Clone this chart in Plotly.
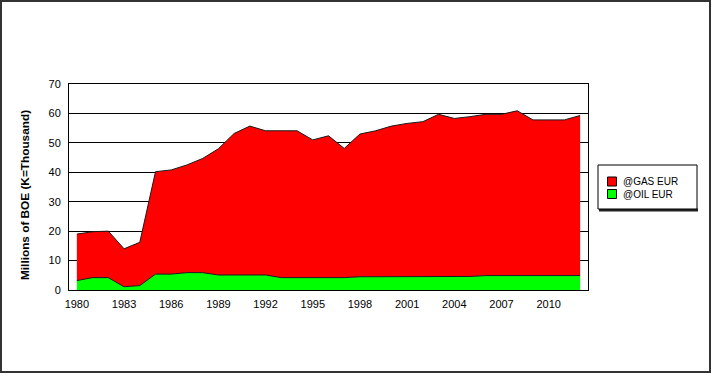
import plotly.graph_objects as go

years = list(range(1980, 2013))
total_eur = [19.0, 19.8, 20.0, 14.0, 16.2, 40.2, 40.8, 42.5, 44.7, 48.0, 53.2,
             55.7, 54.1, 54.1, 54.1, 51.0, 52.4, 48.1, 53.0, 54.1, 55.7,
             56.6, 57.2, 59.7, 58.3, 58.9, 59.7, 59.7, 60.9, 57.8, 57.8,
             57.8, 59.3]
oil_eur = [3.2, 4.2, 4.2, 1.1, 1.5, 5.4, 5.4, 5.9, 5.9, 5.1, 5.1,
           5.1, 5.1, 4.2, 4.2, 4.0, 4.2, 4.2, 4.5, 4.5, 4.5,
           4.5, 4.5, 4.5, 4.5, 4.6, 4.9, 4.9, 4.9, 4.9, 4.9,
           4.9, 4.9]
gas_eur = [round(t - o, 2) for t, o in zip(total_eur, oil_eur)]
x_ticks = list(range(1980, 2011, 3))
y_ticks = list(range(0, 71, 10))
legend_names = ["@GAS EUR", "@OIL EUR"]

GAS_COLOR = "#FF0000"
OIL_COLOR = "#00FF00"

fig = go.Figure()
fig.add_trace(go.Scatter(x=years, y=oil_eur, name="@OIL EUR", stackgroup="one",
                         mode="lines", line=dict(color="#1a1a1a", width=1),
                         fillcolor=OIL_COLOR, showlegend=False))
fig.add_trace(go.Scatter(x=years, y=gas_eur, name="@GAS EUR", stackgroup="one",
                         mode="lines", line=dict(color="#1a1a1a", width=1),
                         fillcolor=GAS_COLOR, showlegend=False))

font = dict(family="Liberation Sans, Arial, sans-serif", size=11, color="#000")

# plot area in pixels: x 69..588, y 84..290
L, R, T, B = 69, 588, 84, 290
def px(x):
    return (x - L) / (R - L)
def py(y):
    return (B - y) / (B - T)

fig.update_layout(
    width=713, height=373,
    margin=dict(l=L, r=713 - R, t=T, b=373 - B),
    paper_bgcolor="white", plot_bgcolor="white",
    font=font,
    showlegend=False,
    xaxis=dict(range=[1979.5, 2012.5], tickvals=x_ticks,
               ticktext=[str(v) for v in x_ticks], showgrid=False,
               showline=True, linecolor="#000", linewidth=1, mirror=True,
               ticks="", ticklen=0, zeroline=False, tickfont=dict(size=11),
               ticklabelstandoff=4),
    yaxis=dict(range=[0, 70], tickvals=y_ticks, showgrid=True,
               gridcolor="#000", gridwidth=1, showline=True, linecolor="#000",
               linewidth=1, mirror=True, ticks="", zeroline=False,
               tickfont=dict(size=11), ticklabelstandoff=5),
)

# y-axis title
fig.add_annotation(text="<b>Millions of BOE (K=Thousand)</b>", xref="paper",
                   yref="paper", x=px(25), y=py(195), textangle=-90,
                   showarrow=False, font=dict(size=11.8),
                   xanchor="center", yanchor="middle")

# outer frame of the chart
fig.add_shape(type="rect", xref="paper", yref="paper",
              x0=px(1), x1=px(710), y0=py(372), y1=py(1),
              line=dict(color="#333", width=2), layer="below")

# legend box with shadow
fig.add_shape(type="line", xref="paper", yref="paper",
              x0=px(599), x1=px(698), y0=py(210), y1=py(210),
              line=dict(color="#222", width=3))
fig.add_shape(type="rect", xref="paper", yref="paper",
              x0=px(598), x1=px(697), y0=py(209), y1=py(165),
              line=dict(color="#000", width=1), fillcolor="white")
for i, (name, col) in enumerate(zip(legend_names, [GAS_COLOR, OIL_COLOR])):
    yc = 181.5 + 12.5 * i
    fig.add_shape(type="rect", xref="paper", yref="paper",
                  x0=px(607.5), x1=px(616.5), y0=py(yc + 4.5), y1=py(yc - 4.5),
                  line=dict(color="#000", width=1), fillcolor=col)
    fig.add_annotation(text=name, xref="paper", yref="paper",
                       x=px(621), y=py(yc), showarrow=False,
                       xanchor="left", yanchor="middle",
                       font=dict(size=10))

fig.write_html("out.html", post_script="document.body.style.margin='0';",
               config={"displayModeBar": False})
